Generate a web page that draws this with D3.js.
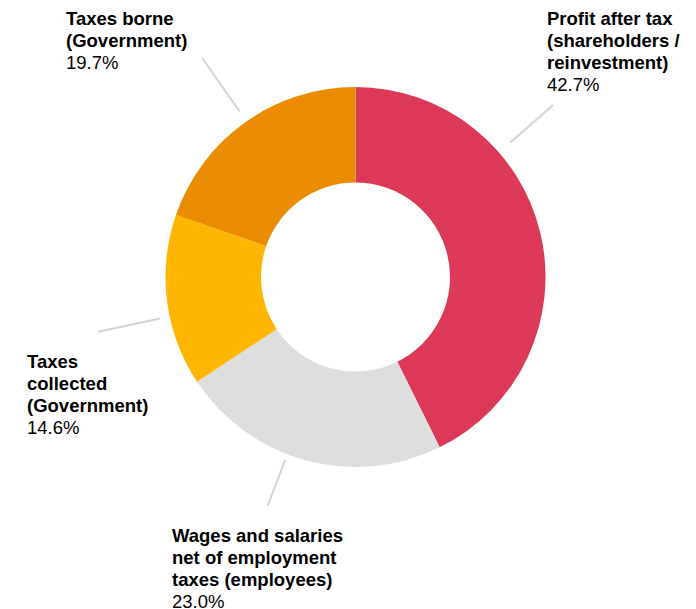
<!DOCTYPE html>
<html>
<head>
<meta charset="utf-8">
<script src="https://cdn.jsdelivr.net/npm/d3@7"></script>
<style>
  html, body { margin: 0; padding: 0; background: #fff; }
  svg { display: block; }
  text { font-family: "Liberation Sans", Arial, sans-serif; font-size: 18.5px; fill: #000; }
</style>
</head>
<body>
<svg id="chart" width="696" height="609"></svg>
<script>
// Distribution of value, clockwise from twelve o'clock
const categories = [
  "Profit after tax (shareholders / reinvestment)",
  "Wages and salaries net of employment taxes (employees)",
  "Taxes collected (Government)",
  "Taxes borne (Government)"
];
const labelLines = [
  ["Profit after tax", "(shareholders /", "reinvestment)"],
  ["Wages and salaries", "net of employment", "taxes (employees)"],
  ["Taxes", "collected", "(Government)"],
  ["Taxes borne", "(Government)"]
];
const shares = [42.7, 23.0, 14.6, 19.7];
const colors = ["#db3957", "#dedede", "#ffb600", "#eb8c00"];

// Layout
const width = 696, height = 609;
const cx = 355.5, cy = 277;
const outerR = 190, innerR = 94.5;
const lineH = 22.1;

// Leader line direction (degrees clockwise from top) and extent, per slice
const leaders = [
  { angle: 49,  r0: 205, r1: 262 },
  { angle: 201, r0: 196, r1: 245 },
  { angle: 258, r0: 200, r1: 263 },
  { angle: 325, r0: 202, r1: 267 }
];
// Text block anchor: left x and first baseline
const labelPos = [
  { x: 547, y: 25 },
  { x: 172, y: 541.5 },
  { x: 27,  y: 368 },
  { x: 66,  y: 24.5 }
];

const svg = d3.select("#chart");
const g = svg.append("g").attr("transform", `translate(${cx},${cy})`);

const pie = d3.pie().sort(null).value(d => d);
const arc = d3.arc().innerRadius(innerR).outerRadius(outerR);
const arcs = pie(shares);

g.selectAll("path.slice")
  .data(arcs)
  .join("path")
  .attr("class", "slice")
  .attr("d", arc)
  .attr("fill", (d, i) => colors[i]);

// Leader lines
const polar = (deg, r) => {
  const a = deg * Math.PI / 180;
  return [Math.sin(a) * r, -Math.cos(a) * r];
};
g.selectAll("line.leader")
  .data(leaders)
  .join("line")
  .attr("class", "leader")
  .attr("x1", d => polar(d.angle, d.r0)[0])
  .attr("y1", d => polar(d.angle, d.r0)[1])
  .attr("x2", d => polar(d.angle, d.r1)[0])
  .attr("y2", d => polar(d.angle, d.r1)[1])
  .attr("stroke", "#d4d4d4")
  .attr("stroke-width", 2);

// Labels
const fmt = d3.format(".1f");
const labels = svg.selectAll("text.label")
  .data(arcs)
  .join("text")
  .attr("class", "label")
  .attr("x", (d, i) => labelPos[i].x)
  .attr("y", (d, i) => labelPos[i].y);

labels.each(function(d, i) {
  const t = d3.select(this);
  labelLines[i].forEach((line, k) => {
    t.append("tspan")
      .attr("x", labelPos[i].x)
      .attr("dy", k === 0 ? 0 : lineH)
      .attr("font-weight", "bold")
      .text(line);
  });
  t.append("tspan")
    .attr("x", labelPos[i].x)
    .attr("dy", lineH)
    .text(fmt(d.data) + "%");
});
</script>
</body>
</html>
